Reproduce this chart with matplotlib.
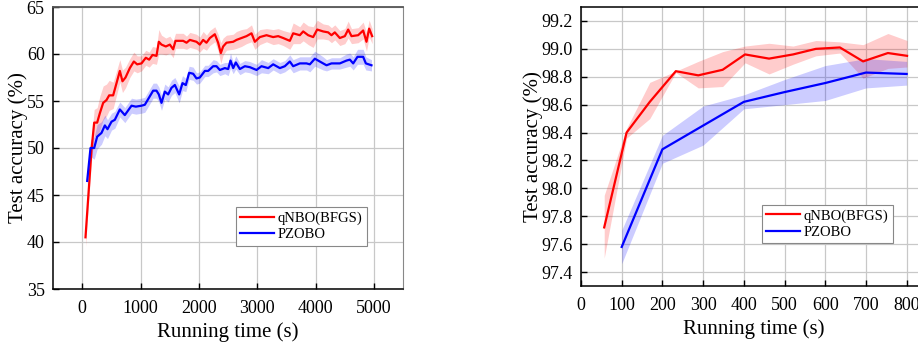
import matplotlib
matplotlib.use("Agg")
import matplotlib.pyplot as plt
import numpy as np

plt.rcParams['font.family'] = ['Liberation Serif', 'DejaVu Serif']
plt.rcParams['mathtext.fontset'] = 'stix'

# ---------------- Left panel data ----------------
red_t = [57, 160, 206, 257, 303, 360, 417, 463, 531, 589, 646, 691, 743, 817, 886, 943,
         1017, 1091, 1149, 1206, 1274, 1314, 1360, 1434, 1503, 1560, 1600, 1731, 1789, 1846,
         1960, 2017, 2074, 2131, 2189, 2274, 2331, 2377, 2417, 2474, 2589, 2646, 2731, 2817,
         2903, 2960, 3046, 3160, 3274, 3360, 3446, 3560, 3617, 3731, 3789, 3874, 3960, 4029,
         4131, 4217, 4274, 4331, 4417, 4503, 4560, 4617, 4731, 4817, 4874, 4920, 4971]
red_v = [40.5, 49.8, 52.7, 52.7, 53.7, 54.8, 55.1, 55.6, 55.6, 56.9, 58.2, 57.1, 57.5, 58.5, 59.2, 58.9,
         59.0, 59.6, 59.4, 59.9, 59.8, 61.3, 61.0, 60.8, 61.0, 60.5, 61.4, 61.4, 61.2, 61.5,
         61.3, 61.0, 61.5, 61.2, 61.7, 62.1, 61.2, 60.1, 60.8, 61.2, 61.3, 61.5, 61.7, 61.9,
         62.2, 61.3, 61.8, 62.0, 61.8, 61.9, 61.7, 61.4, 62.2, 62.0, 62.4, 62.0, 61.8, 62.6,
         62.4, 62.3, 62.0, 62.3, 61.7, 61.9, 62.6, 61.9, 62.0, 62.5, 61.3, 62.7, 61.9]
red_s = [1.0, 1.2, 1.4, 1.6, 1.8, 1.8, 1.7, 1.6, 1.4, 1.3, 1.2, 1.2, 1.1, 1.0, 1.0, 0.9,
         0.8, 0.8, 0.8, 0.9, 0.9, 1.3, 1.0, 0.9, 0.9, 0.9, 0.8, 0.8, 0.7, 0.8,
         0.8, 0.8, 0.9, 0.8, 0.8, 0.8, 0.9, 1.1, 0.9, 0.8, 0.8, 0.9, 0.9, 0.8,
         0.9, 0.8, 0.8, 0.7, 0.8, 0.8, 0.8, 0.9, 1.1, 0.9, 1.0, 1.0, 1.1, 1.0,
         0.8, 0.8, 0.8, 0.8, 0.8, 0.8, 0.9, 0.8, 0.8, 0.9, 1.0, 0.9, 0.8]

blue_t = [86, 143, 206, 257, 331, 389, 434, 503, 560, 646, 731, 846, 920, 1017, 1074, 1160,
          1217, 1274, 1314, 1360, 1417, 1474, 1531, 1589, 1663, 1720, 1777, 1834, 1903, 1960,
          2017, 2103, 2160, 2246, 2303, 2360, 2446, 2503, 2543, 2589, 2634, 2703, 2789, 2874,
          2989, 3074, 3189, 3274, 3389, 3474, 3560, 3617, 3731, 3846, 3903, 3989, 4131, 4189,
          4274, 4417, 4531, 4589, 4646, 4720, 4817, 4863, 4960]
blue_v = [46.5, 50.0, 50.0, 51.2, 51.6, 52.4, 52.0, 52.8, 53.0, 54.1, 53.5, 54.5, 54.4, 54.5, 54.6, 55.5,
          56.1, 56.1, 55.7, 54.8, 56.0, 55.7, 56.4, 56.7, 55.7, 56.9, 56.7, 58.0, 57.9, 57.4,
          57.5, 58.2, 58.2, 58.7, 58.7, 58.3, 58.5, 58.4, 59.3, 58.5, 59.1, 58.4, 58.7, 58.6,
          58.3, 58.7, 58.5, 58.9, 58.5, 58.7, 59.2, 58.7, 59.0, 59.0, 58.9, 59.5, 59.0, 58.8,
          59.0, 59.0, 59.3, 59.4, 59.0, 59.7, 59.7, 59.0, 58.8]
blue_s = [0.5, 0.9, 1.2, 1.3, 1.2, 1.1, 1.0, 0.9, 0.9, 0.8, 0.8, 0.8, 0.8, 0.8, 0.8, 0.8,
          0.8, 0.8, 0.8, 0.8, 0.8, 0.8, 0.8, 0.8, 0.9, 0.8, 0.7, 0.7, 0.7, 0.6,
          0.6, 0.6, 0.6, 0.7, 0.6, 0.6, 0.6, 0.7, 0.8, 0.6, 0.7, 0.6, 0.6, 0.6,
          0.6, 0.7, 0.6, 0.6, 0.6, 0.6, 0.7, 0.7, 0.7, 0.7, 0.8, 0.8, 0.7, 0.6,
          0.6, 0.6, 0.7, 0.7, 0.7, 0.8, 0.8, 0.7, 0.6]

# ---------------- Right panel data ----------------
r2_t = [57, 112, 169, 233, 288, 348, 403, 462, 521, 577, 636, 693, 754, 801]
r2_v = [97.72, 98.40, 98.62, 98.84, 98.81, 98.85, 98.96, 98.93, 98.96, 99.00, 99.01, 98.91, 98.97, 98.95]
r2_hi = [97.95, 98.43, 98.76, 98.84, 98.91, 98.98, 99.02, 99.04, 99.02, 99.06, 99.05, 99.03, 99.11, 99.06]
r2_lo = [97.50, 98.36, 98.50, 98.83, 98.72, 98.73, 98.90, 98.82, 98.89, 98.95, 98.97, 98.79, 98.86, 98.87]

b2_t = [100, 200, 300, 400, 500, 600, 700, 800]
b2_v = [97.58, 98.28, 98.45, 98.62, 98.69, 98.755, 98.83, 98.82]
b2_hi = [97.70, 98.38, 98.59, 98.67, 98.78, 98.88, 98.93, 98.91]
b2_lo = [97.46, 98.18, 98.31, 98.57, 98.60, 98.63, 98.72, 98.74]

labels = ['qNBO(BFGS)', 'PZOBO']
RED = '#ff0000'
BLUE = '#0000ff'

W, H = 918, 344
fig = plt.figure(figsize=(W / 100, H / 100), dpi=100)

ax1 = fig.add_axes([53 / W, (H - 289) / H, 350 / W, 282 / H])
ax2 = fig.add_axes([581 / W, (H - 286) / H, 346 / W, 279 / H])

# left
rt, rv, rs = map(np.array, (red_t, red_v, red_s))
bt, bv, bs = map(np.array, (blue_t, blue_v, blue_s))
ax1.fill_between(rt, rv - rs, rv + rs, color=RED, alpha=0.2, lw=0)
ax1.fill_between(bt, bv - bs, bv + bs, color=BLUE, alpha=0.2, lw=0)
ax1.plot(rt, rv, color=RED, lw=1.6, label=labels[0])
ax1.plot(bt, bv, color=BLUE, lw=1.6, label=labels[1])
ax1.set_xlim(-500, 5500)
ax1.set_ylim(35, 65)
ax1.set_xticks([0, 1000, 2000, 3000, 4000, 5000])
ax1.set_yticks([35, 40, 45, 50, 55, 60, 65])

# right
ax2.fill_between(r2_t, r2_lo, r2_hi, color=RED, alpha=0.2, lw=0)
ax2.fill_between(b2_t, b2_lo, b2_hi, color=BLUE, alpha=0.2, lw=0)
ax2.plot(r2_t, r2_v, color=RED, lw=1.6, label=labels[0])
ax2.plot(b2_t, b2_v, color=BLUE, lw=1.6, label=labels[1])
ax2.set_xlim(0, 850)
ax2.set_ylim(97.3, 99.3)
ax2.set_xticks(range(0, 801, 100))
ax2.set_yticks([97.4, 97.6, 97.8, 98.0, 98.2, 98.4, 98.6, 98.8, 99.0, 99.2])
ax2.set_yticklabels(['97.4', '97.6', '97.8', '98.0', '98.2', '98.4', '98.6', '98.8', '99.0', '99.2'])

for ax in (ax1, ax2):
    ax.grid(True, color='#c8c8c8', lw=0.9)
    ax.set_axisbelow(True)
    ax.tick_params(direction='in', length=4, width=1, labelsize=13, pad=6, colors='black')
    ax.tick_params(axis='x', pad=8)
    ax.set_xlabel('Running time (s)', fontsize=15, labelpad=4)
    ax.set_ylabel('Test accuracy (%)', fontsize=15, labelpad=-1)
    ax.spines['left'].set_linewidth(1.1)
    ax.spines['bottom'].set_linewidth(1.1)
    leg = ax.legend(loc='lower left', bbox_to_anchor=(0.522, 0.154), fontsize=10.5,
                    fancybox=False, edgecolor='#888888', framealpha=1,
                    handlelength=2.3, handletextpad=0.3, borderpad=0.3, labelspacing=0.2,
                    borderaxespad=0)
    leg.get_frame().set_linewidth(0.8)

ax1.spines['top'].set_color('#555555')
ax1.spines['top'].set_linewidth(1.3)
ax1.spines['right'].set_color('#888888')
ax2.spines['top'].set_linewidth(1.1)

fig.savefig('out.png', dpi=100)
